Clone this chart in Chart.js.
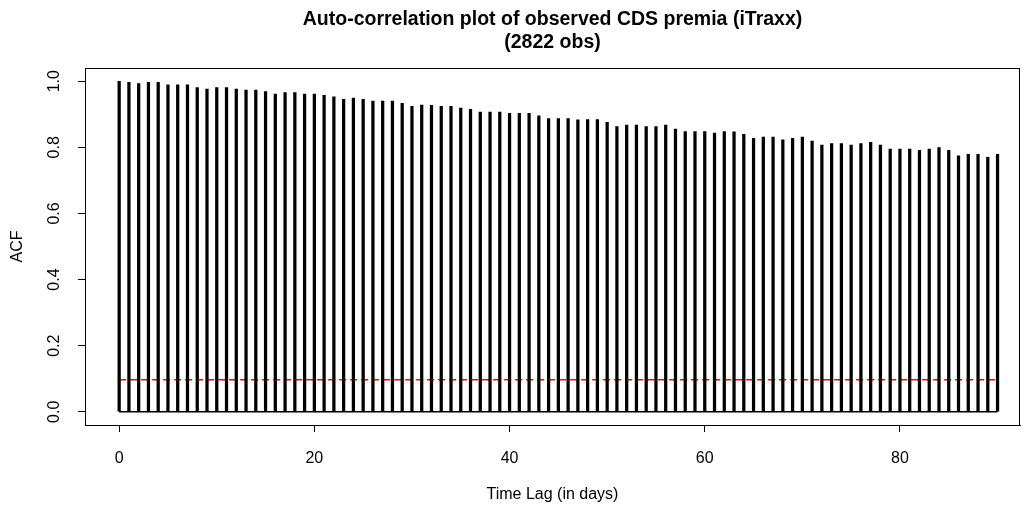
<!DOCTYPE html>
<html lang="en">
<head>
<meta charset="UTF-8">
<title>ACF iTraxx</title>
<script src="https://cdn.jsdelivr.net/npm/chart.js"></script>
<style>
  html, body { margin: 0; padding: 0; background: #fff; }
  #wrap { width: 1024px; height: 506px; }
</style>
</head>
<body>
<div id="wrap"><canvas id="acf"></canvas></div>
<script>
// lag (days) and auto-correlation
var lags = [0,1,2,3,4,5,6,7,8,9,10,11,12,13,14,15,16,17,18,19,20,
  21,22,23,24,25,26,27,28,29,30,31,32,33,34,35,36,37,38,39,40,
  41,42,43,44,45,46,47,48,49,50,51,52,53,54,55,56,57,58,59,60,
  61,62,63,64,65,66,67,68,69,70,71,72,73,74,75,76,77,78,79,80,
  81,82,83,84,85,86,87,88,89,90];
var acfValues = [1.000,0.997,0.993,0.997,0.997,0.989,0.989,0.989,0.981,0.976,0.981,
  0.981,0.976,0.973,0.973,0.969,0.961,0.966,0.966,0.961,0.961,
  0.957,0.953,0.945,0.949,0.945,0.940,0.940,0.940,0.933,0.924,
  0.928,0.927,0.924,0.924,0.919,0.915,0.907,0.907,0.907,0.903,
  0.903,0.903,0.895,0.887,0.887,0.887,0.883,0.884,0.884,0.876,
  0.863,0.867,0.867,0.863,0.863,0.867,0.855,0.848,0.848,0.848,
  0.843,0.848,0.847,0.839,0.827,0.831,0.831,0.823,0.827,0.831,
  0.819,0.807,0.811,0.811,0.807,0.811,0.815,0.807,0.795,0.795,
  0.795,0.791,0.795,0.799,0.791,0.774,0.779,0.779,0.770,0.779];
var xTicks = [0, 20, 40, 60, 80];
var yTicks = [0, 0.2, 0.4, 0.6, 0.8, 1.0];
var bandLevel = 0.097;   // red dashed reference line
var lagRange = [0, 90];

var FONT = '"Liberation Sans", Arial, sans-serif';

var barPoints = lags.map(function (l, i) { return { x: l, y: acfValues[i] }; });

// box around the plot region + two-line title (like R's plot())
var rPlotDecor = {
  id: 'rPlotDecor',
  afterDraw: function (chart) {
    var ctx = chart.ctx, a = chart.chartArea;
    ctx.save();
    ctx.strokeStyle = '#000';
    ctx.lineWidth = 1;
    ctx.strokeRect(Math.round(a.left) + 0.5, Math.round(a.top) + 0.5,
                   Math.round(a.right - a.left) - 1, Math.round(a.bottom - a.top));
    ctx.fillStyle = '#000';
    ctx.font = 'bold 19.5px ' + FONT;
    ctx.textAlign = 'center';
    ctx.textBaseline = 'middle';
    var cx = (a.left + a.right) / 2;
    ctx.fillText('Auto-correlation plot of observed CDS premia (iTraxx)', cx, 20);
    ctx.fillText('(2822 obs)', cx, 43);
    ctx.restore();
  }
};

var ctx = document.getElementById('acf').getContext('2d');
var acfChart = new Chart(ctx, {
  type: 'bar',
  data: {
    datasets: [{
      type: 'line',
      data: [{ x: lagRange[0], y: bandLevel }, { x: lagRange[1], y: bandLevel }],
      borderColor: '#ff0000',
      borderWidth: 1.6,
      borderDash: [7, 4],
      pointRadius: 0,
      order: 3
    }, {
      type: 'line',
      data: [{ x: lagRange[0], y: 0 }, { x: lagRange[1], y: 0 }],
      borderColor: '#000',
      borderWidth: 1.5,
      pointRadius: 0,
      order: 2
    }, {
      type: 'bar',
      data: barPoints,
      backgroundColor: '#000',
      barThickness: 2.6,
      grouped: false,
      order: 1
    }]
  },
  options: {
    responsive: true,
    maintainAspectRatio: false,
    animation: false,
    events: [],
    layout: { padding: { top: 68, right: 4, left: 0, bottom: 0 } },
    plugins: {
      legend: { display: false },
      tooltip: { enabled: false }
    },
    scales: {
      x: {
        type: 'linear',
        offset: false,
        min: -3.5,
        max: 92.3,
        afterBuildTicks: function (scale) {
          scale.ticks = xTicks.map(function (v) { return { value: v }; });
        },
        afterFit: function (scale) { scale.height = 81; },
        grid: { offset: false, drawOnChartArea: false, drawTicks: true, tickLength: 7, color: '#000', lineWidth: 1 },
        border: { display: true, color: '#000', width: 1 },
        ticks: {
          color: '#000',
          font: { family: FONT, size: 16 },
          padding: 17,
          maxRotation: 0
        },
        title: {
          display: true,
          text: 'Time Lag (in days)',
          color: '#000',
          font: { family: FONT, size: 16 },
          padding: { top: 0, bottom: 2 }
        }
      },
      y: {
        min: -0.04,
        max: 1.04,
        afterBuildTicks: function (scale) {
          scale.ticks = yTicks.map(function (v) { return { value: v }; });
        },
        afterFit: function (scale) { scale.width = 85; },
        grid: { drawOnChartArea: false, drawTicks: true, tickLength: 7, color: '#000', lineWidth: 1 },
        border: { display: true, color: '#000', width: 1 },
        ticks: {
          color: '#000',
          font: { family: FONT, size: 16 },
          minRotation: 90,
          maxRotation: 90,
          crossAlign: 'center',
          padding: 12,
          callback: function (v) { return v.toFixed(1); }
        },
        title: {
          display: true,
          text: 'ACF',
          color: '#000',
          font: { family: FONT, size: 16 },
          padding: { top: 8, bottom: 0 }
        }
      }
    }
  },
  plugins: [rPlotDecor]
});
</script>
</body>
</html>
